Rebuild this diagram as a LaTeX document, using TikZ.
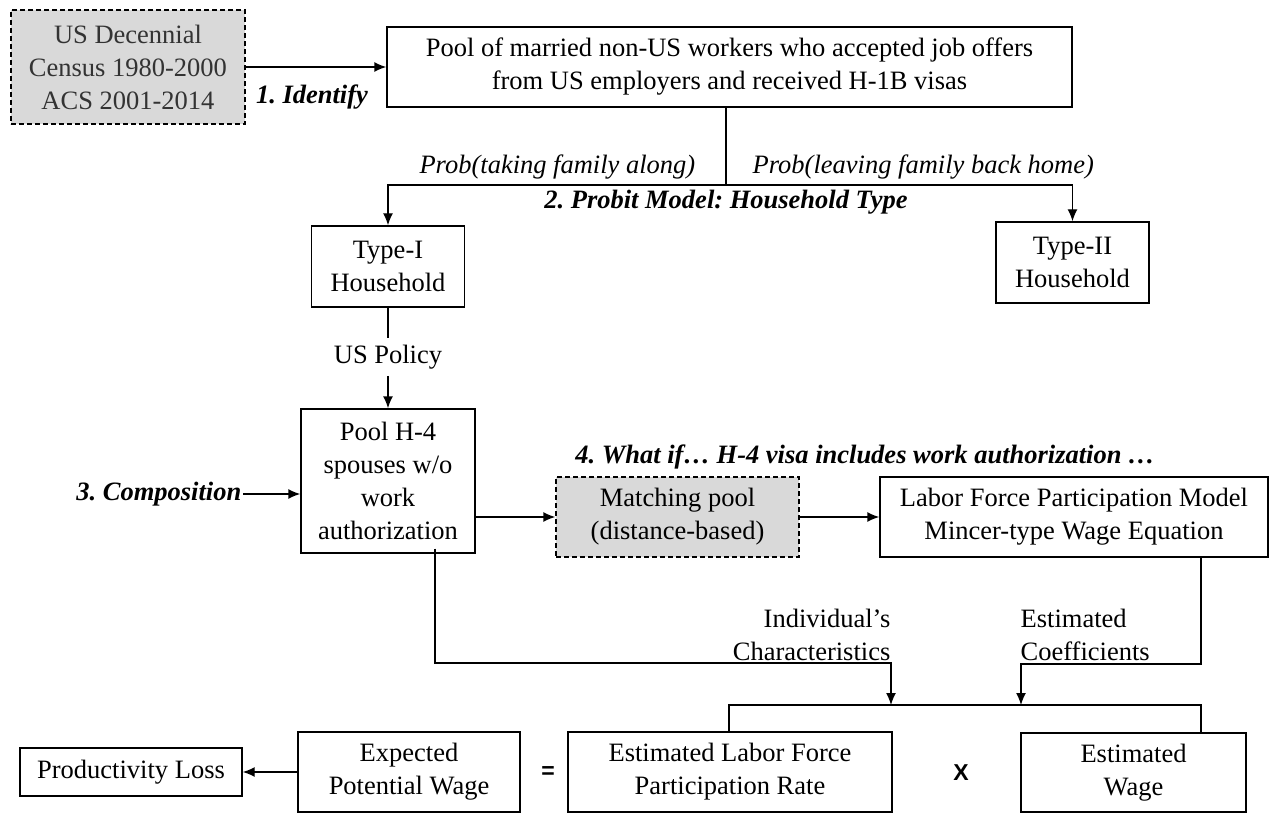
\documentclass[tikz,border=0pt]{standalone}
\usepackage{fontspec}
\setmainfont{Liberation Serif}
\newfontfamily\symfont{Liberation Sans}
\usetikzlibrary{shapes.geometric, arrows, arrows.meta}
\definecolor{boxgray}{RGB}{217,217,217}

\begin{document}
\frenchspacing
\begin{tikzpicture}[x=1pt, y=-1pt, >={Latex[length=12pt,width=10pt]}, line width=1.4pt, font=\fontsize{26.5}{33}\selectfont]

    % Define the styles for the nodes
    \tikzstyle{block} = [rectangle, draw, text centered, align=center, inner sep=2pt]
    \tikzstyle{source} = [block, fill=boxgray, dash pattern=on 5pt off 3pt]
    \tikzstyle{tag} = [inner sep=1pt]
    \tikzstyle{steplabel} = [tag, font=\fontsize{26.5}{33}\selectfont\bfseries\itshape]
    \tikzstyle{problabel} = [tag, font=\fontsize{26.5}{33}\selectfont\itshape]
    \tikzstyle{operator} = [tag, font=\symfont\bfseries\fontsize{23}{27}\selectfont]

    \useasboundingbox (0,0) rectangle (1270,813);

    % Nodes
    \node (census) [source, minimum width=234, minimum height=114, text=black!80] at (128,67) {US Decennial\\Census 1980-2000\\ACS 2001-2014};
    \node (pool) [block, minimum width=685, minimum height=80] at (729.5,67) {Pool of married non-US workers who accepted job offers\\from US employers and received H-1B visas};
    \node (typeI) [block, minimum width=153, minimum height=81] at (388,266.5) {Type-I\\Household};
    \node (typeII) [block, minimum width=153, minimum height=81] at (1072.5,262.5) {Type-II\\Household};
    \node (policy) [inner sep=6pt] at (388,357) {US Policy};
    \node (h4) [block, minimum width=174, minimum height=144] at (388,481) {Pool H-4\\spouses w/o\\work\\authorization};
    \node (matching) [source, minimum width=243, minimum height=80] at (677.5,517) {Matching pool\\(distance-based)};
    \node (lfp) [block, minimum width=388, minimum height=80] at (1074,517) {Labor Force Participation Model\\Mincer-type Wage Equation};
    \node (prodloss) [block, minimum width=222, minimum height=48] at (131,772) {Productivity Loss};
    \node (expected) [block, minimum width=222, minimum height=80] at (409,772) {Expected\\Potential Wage};
    \node (elfpr) [block, minimum width=324, minimum height=80] at (730,772) {Estimated Labor Force\\Participation Rate};
    \node (ew) [block, minimum width=225, minimum height=79] at (1133.5,772.5) {Estimated\\Wage};
    \node (equals) [operator] at (548,773) {=};
    \node (times) [operator] at (961,773) {X};

    % Labels
    \node (identify) [steplabel] at (312,97) {1. Identify};
    \node (probtake) [problabel, anchor=east] at (697,167) {Prob(taking family along)};
    \node (probleave) [problabel, anchor=west] at (751,167) {Prob(leaving family back home)};
    \node (probit) [steplabel] at (726,202) {2. Probit Model: Household Type};
    \node (compose) [steplabel, anchor=east] at (243,494) {3. Composition};
    \node (whatif) [steplabel] at (865,457) {4. What if\ldots{} H-4 visa includes work authorization \ldots};
    \node (indiv) [tag, align=right, anchor=east] at (892,635) {Individual’s\\Characteristics};
    \node (coef) [tag, align=left, anchor=west] at (1019,635) {Estimated\\Coefficients};

    % Joints
    \coordinate (split) at (726,185);
    \coordinate (charbend) at (435,663);
    \coordinate (coefbend) at (1201,664);
    \coordinate (charin) at (891,705);
    \coordinate (coefin) at (1021,705);
    \coordinate (joinl) at (729,705);
    \coordinate (joinr) at (1201,705);

    % Arrows
    \draw[->] (census) -- (pool);
    \draw (pool.south -| split) -- (split);
    \draw[->] (split) -| (typeI.north);
    \draw[->] (split) -| (typeII.north);
    \draw (typeI.south) -- (policy.north);
    \draw[->] (policy.south) -- (h4.north);
    \draw[->] (compose.east) -- (compose.east -| h4.west);
    \draw[->] (h4.east |- matching) -- (matching);
    \draw[->] (matching) -- (lfp);
    \draw[->] ([yshift=5pt]h4.south -| charbend) -- (charbend) -| (charin);
    \draw[->] (lfp.south -| coefbend) -- (coefbend) -| (coefin);
    \draw (elfpr.north -| joinl) -- (joinl) -- (joinr) -- (ew.north -| joinr);
    \draw[->] (expected) -- (prodloss);

\end{tikzpicture}
\end{document}
